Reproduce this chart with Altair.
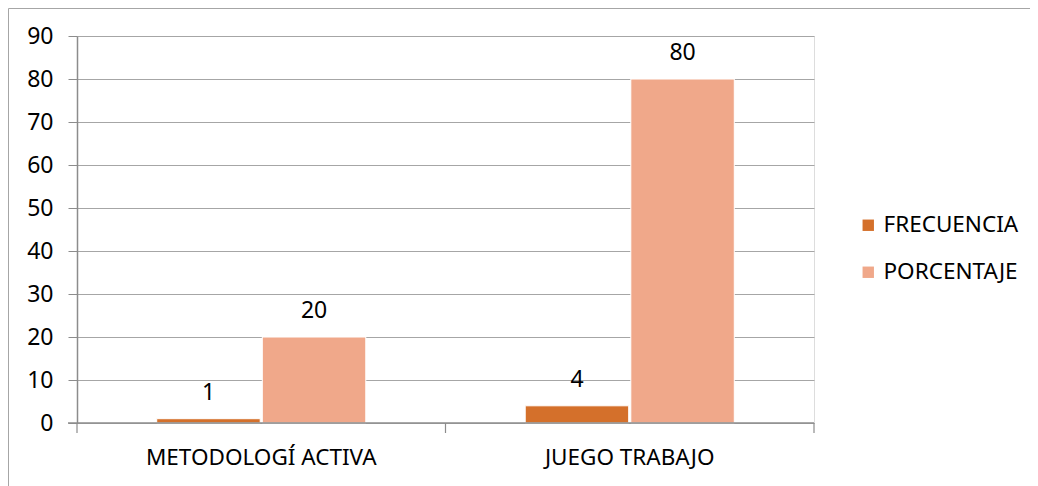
import altair as alt
import pandas as pd

categorias = ["METODOLOGÍ ACTIVA", "JUEGO TRABAJO"]
series = ["FRECUENCIA", "PORCENTAJE"]
frecuencia = [1, 4]
porcentaje = [20, 80]
colores = ["#D4702B", "#F0A88A"]
y_ticks = list(range(0, 100, 10))

rows = []
for i, c in enumerate(categorias):
    rows.append({"categoria": c, "serie": series[0], "valor": frecuencia[i]})
    rows.append({"categoria": c, "serie": series[1], "valor": porcentaje[i]})
df = pd.DataFrame(rows)

FONT = "Noto Sans"
FS = 22.5
FN = 23
W, H = 737, 387

x_enc = alt.X("categoria:N", sort=categorias, title=None,
              scale=alt.Scale(paddingInner=0, paddingOuter=0),
              axis=alt.Axis(labelAngle=0, ticks=False, labelFontSize=FS, labelFont=FONT,
                            labelColor="#000000", labelPadding=23, domain=False, grid=False,
                            labelLimit=0))
xo = alt.XOffset("serie:N", sort=series,
                 scale=alt.Scale(paddingInner=0.02, paddingOuter=0.755))
y_enc = alt.Y("valor:Q", title=None,
              scale=alt.Scale(domain=[0, 90], nice=False),
              axis=alt.Axis(values=y_ticks, tickSize=9, tickColor="#8c8c8c", labelFontSize=FN,
                            labelFont=FONT, labelColor="#000000", labelPadding=15,
                            domainColor="#8c8c8c", domainWidth=1.5, gridColor="#a6a6a6",
                            gridWidth=1.2))

color = alt.Color("serie:N", sort=series,
                  scale=alt.Scale(domain=series, range=colores),
                  legend=alt.Legend(title=None, orient="none", legendX=780, legendY=178,
                                    symbolType="square", symbolSize=130, symbolStrokeWidth=0,
                                    labelFontSize=FS, labelFont=FONT, labelColor="#000000",
                                    rowPadding=24, labelOffset=4))

bars = alt.Chart(df).mark_bar(stroke="#ffffff", strokeWidth=1).encode(
    x=x_enc, xOffset=xo, y=y_enc, color=color)

labels = alt.Chart(df).mark_text(baseline="alphabetic", dy=-19, fontSize=FN, font=FONT,
                                 color="#000000").encode(
    x=alt.X("categoria:N", sort=categorias), xOffset=alt.XOffset("serie:N", sort=series),
    y="valor:Q", text="valor:Q")

base_line = alt.Chart(pd.DataFrame({"v": [0]})).mark_rule(color="#8c8c8c", strokeWidth=1.5).encode(
    y=alt.Y("v:Q"), x=alt.value(-9), x2=alt.value(W))

main = alt.layer(bars, labels, base_line)

tick_df = pd.DataFrame({"t": [0, 1, 2]})
xticks = alt.Chart(tick_df).mark_rule(color="#8c8c8c", strokeWidth=1.2).encode(
    x=alt.X("t:Q", scale=alt.Scale(domain=[0, 2], nice=False), axis=None),
    y=alt.value(H), y2=alt.value(H + 10))

border = alt.Chart(pd.DataFrame({"b": [0]})).mark_rect(
    fill=None, stroke="#a6a6a6", strokeWidth=1).encode(
    x=alt.value(-68.5), x2=alt.value(1100), y=alt.value(-27.5), y2=alt.value(600))

chart = alt.layer(border, main, xticks).resolve_scale(x="independent").properties(
    width=W, height=H,
    padding={"left": 69, "top": 28, "right": 216, "bottom": 64},
    autosize=alt.AutoSizeParams(type="none"),
).configure_view(stroke=None).configure(background="#ffffff")

chart.save("out.html", embed_options={"renderer": "svg", "actions": False})
